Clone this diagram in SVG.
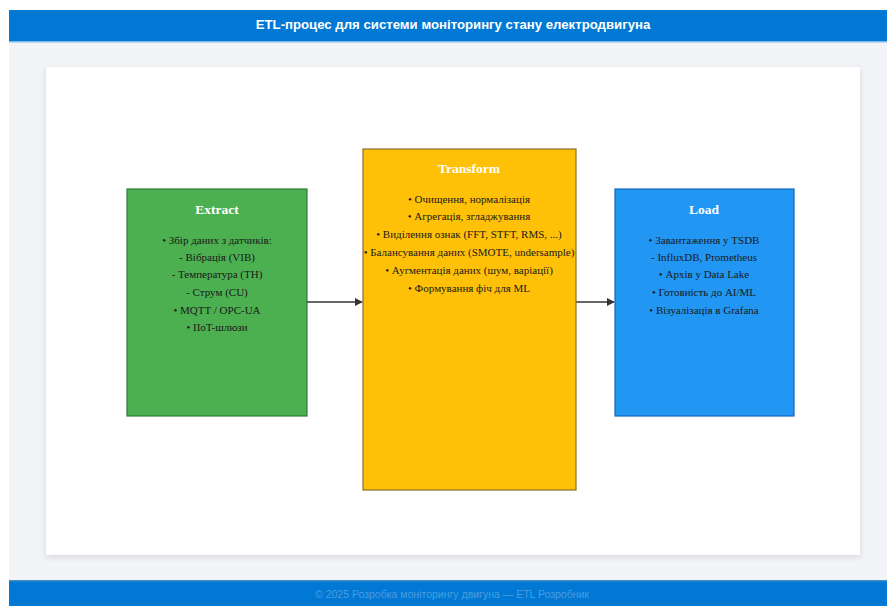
<svg xmlns="http://www.w3.org/2000/svg" width="887" height="606" viewBox="0 0 887 606">
  <defs>
    <marker id="arrow" viewBox="0 0 10 10" refX="9" refY="5" markerWidth="6" markerHeight="6" orient="auto">
      <path d="M0,0 L10,5 L0,10 z" fill="#333"/>
    </marker>
    <filter id="shadow" x="-5%" y="-5%" width="110%" height="110%">
      <feDropShadow dx="0" dy="2" stdDeviation="3" flood-color="#000" flood-opacity="0.12"/>
    </filter>
    <style>
      .page { fill: #f2f4f8; }
      .bar { fill: #0078d4; }
      .heading { font-family: "Liberation Sans", Arial, sans-serif; font-size: 13.2px; font-weight: bold; fill: #ffffff; text-anchor: middle; }
      .foot { font-family: "Liberation Sans", Arial, sans-serif; font-size: 10.5px; fill: #4a9ee0; text-anchor: middle; }
      .panel { fill: #ffffff; }
      .box { stroke-width: 1.2; }
      .title { font-family: "Liberation Serif", "Times New Roman", serif; font-size: 13.5px; font-weight: bold; fill: #ffffff; text-anchor: middle; }
      .item { font-family: "Liberation Serif", "Times New Roman", serif; font-size: 11px; fill: #1a1a1a; text-anchor: middle; }
      .link { stroke: #333; stroke-width: 1.3; fill: none; }
    </style>
  </defs>

  <!-- page background -->
  <rect class="page" x="0" y="0" width="887" height="606"/>
  <rect x="0" y="0" width="887" height="10" fill="#ffffff"/>
  <rect x="0" y="0" width="9" height="606" fill="#ffffff"/>

  <!-- header -->
  <rect class="bar" x="9" y="10" width="878" height="32"/>
  <rect x="9" y="41" width="878" height="1.5" fill="#7fbbe8"/>
  <text class="heading" x="453" y="29">ETL-процес для системи моніторингу стану електродвигуна</text>

  <!-- content panel -->
  <rect class="panel" x="46" y="67" width="814" height="488" filter="url(#shadow)"/>

  <!-- connectors -->
  <g id="connectors">
    <line class="link" x1="307" y1="302" x2="362" y2="302" marker-end="url(#arrow)"/>
    <line class="link" x1="576" y1="302" x2="614" y2="302" marker-end="url(#arrow)"/>
  </g>

  <!-- Extract stage -->
  <g id="extract">
    <rect class="box" x="127" y="189" width="180" height="227" fill="#4caf50" stroke="#2e7d32"/>
    <text class="title" x="217" y="214">Extract</text>
    <text class="item" x="217" y="244">• Збір даних з датчиків:</text>
    <text class="item" x="217" y="261">- Вібрація (VIB)</text>
    <text class="item" x="217" y="278">- Температура (TH)</text>
    <text class="item" x="217" y="296">- Струм (CU)</text>
    <text class="item" x="217" y="314">• MQTT / OPC-UA</text>
    <text class="item" x="217" y="331">• IIoT-шлюзи</text>
  </g>

  <!-- Transform stage -->
  <g id="transform">
    <rect class="box" x="363" y="149" width="213" height="341" fill="#ffc107" stroke="#8d6e2a"/>
    <text class="title" x="469" y="173">Transform</text>
    <text class="item" x="469" y="203">• Очищення, нормалізація</text>
    <text class="item" x="469" y="220">• Агрегація, згладжування</text>
    <text class="item" x="469" y="238">• Виділення ознак (FFT, STFT, RMS, ...)</text>
    <text class="item" x="469" y="256">• Балансування даних (SMOTE, undersample)</text>
    <text class="item" x="469" y="274">• Аугментація даних (шум, варіації)</text>
    <text class="item" x="469" y="292">• Формування фіч для ML</text>
  </g>

  <!-- Load stage -->
  <g id="load">
    <rect class="box" x="615" y="189" width="179" height="227" fill="#2196f3" stroke="#1565c0"/>
    <text class="title" x="704" y="214">Load</text>
    <text class="item" x="704" y="244">• Завантаження у TSDB</text>
    <text class="item" x="704" y="261">- InfluxDB, Prometheus</text>
    <text class="item" x="704" y="278">• Архів у Data Lake</text>
    <text class="item" x="704" y="296">• Готовність до AI/ML</text>
    <text class="item" x="704" y="314">• Візуалізація в Grafana</text>
  </g>

  <!-- footer -->
  <rect class="bar" x="9" y="580" width="878" height="26"/>
  <rect x="9" y="580" width="878" height="1.5" fill="#3d8fc4"/>
  <text class="foot" x="452" y="598">© 2025 Розробка моніторингу двигуна — ETL Розробник</text>
</svg>
